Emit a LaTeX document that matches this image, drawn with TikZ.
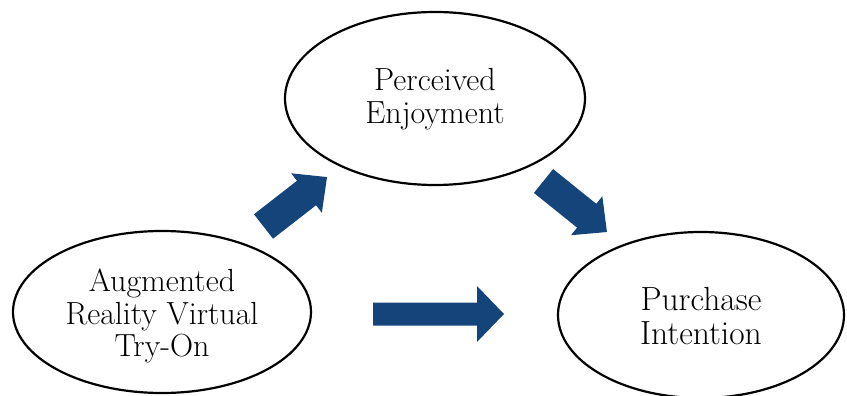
\documentclass[tikz,border=0pt]{standalone}
\definecolor{arrowblue}{RGB}{20,68,122}
% #1 tail point, #2 angle, #3 length, #4 head length, #5 shaft half width, #6 head half width
\newcommand\BlockArr[6]{%
  \fill[arrowblue, shift={#1}, rotate=#2]
    (0,#5) -- ({#3-#4},#5) -- ({#3-#4},#6) -- (#3,0) -- ({#3-#4},-#6)
    -- ({#3-#4},-#5) -- (0,-#5) -- cycle;}
\begin{document}
\begin{tikzpicture}[x=1pt,y=-1pt,
  outline/.style={draw=black, line width=2.2pt},
  lbl/.style={align=center, font=\fontsize{32}{32.5}\selectfont}]
\clip (0,0) rectangle (847,396);
% constructs
\draw[outline] (435,98.5) ellipse [x radius=150, y radius=86.5];
\draw[outline] (162,312) ellipse [x radius=149, y radius=81];
\draw[outline] (701,315) ellipse [x radius=143, y radius=83];
\node[lbl] (pe) at (435,99) {Perceived\\Enjoyment};
\node[lbl] (ar) at (162,316) {Augmented\\Reality Virtual\\Try-On};
\node[lbl, font=\fontsize{33.5}{34}\selectfont] (pi) at (701,316) {Purchase\\Intention};
% block arrows
\BlockArr{(263.5,226.5)}{37.9}{80.5}{26}{15.5}{25}
\BlockArr{(543.5,181)}{-38.8}{81.4}{26}{15.3}{25}
\BlockArr{(373,314)}{0}{131}{27}{11.5}{28}
\end{tikzpicture}
\end{document}
